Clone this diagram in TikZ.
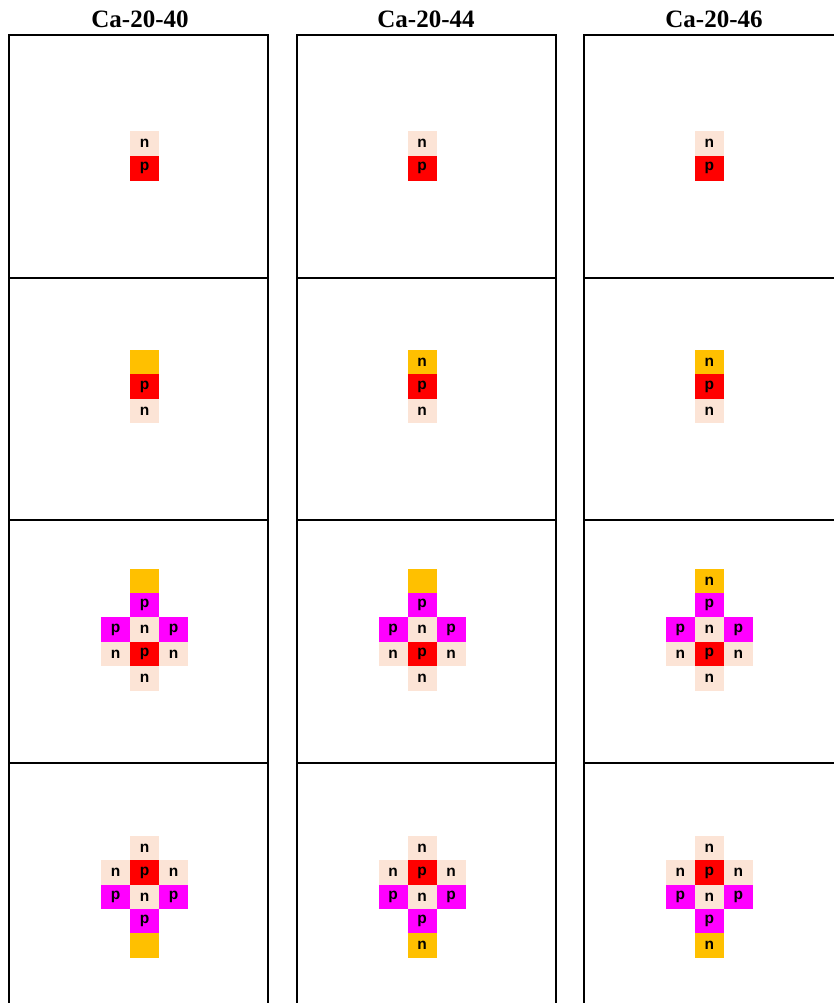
\documentclass[tikz,border=0pt]{standalone}
\usepackage{fontspec}
\setmainfont{Liberation Serif}
\newfontfamily\cellfont{Liberation Sans}
\definecolor{npink}{HTML}{FCE4D6}
\definecolor{pred}{HTML}{FF0000}
\definecolor{oorange}{HTML}{FFC000}
\definecolor{mmag}{HTML}{FF00FF}
\tikzset{
  cellbox/.style={inner sep=0pt, minimum width=29pt, minimum height=24.5pt, draw=none,
    font=\cellfont\bfseries\fontsize{15.5}{16}\selectfont, text=black},
  frame/.style={draw=black, line width=2pt},
  title/.style={font=\bfseries\fontsize{25}{28}\selectfont, inner sep=0pt}
}
\newcommand\cellnode[5]{\node[cellbox,fill=#4] (#1) at (#2,#3) {\raisebox{-1pt}{#5}};}
\begin{document}
\begin{tikzpicture}[x=1pt,y=-1pt]
\useasboundingbox (0,0) rectangle (834,1003);
\clip (0,0) rectangle (834,1003);
\fill[white] (0,0) rectangle (834,1003);
% titles
\node[title, anchor=base] (t1) at (140,28) {Ca-20-40};
\node[title, anchor=base] (t2) at (426,28) {Ca-20-44};
\node[title, anchor=base] (t3) at (714,28) {Ca-20-46};
% frames
\foreach \xl/\xr/\c in {9/268/a, 297/556/b, 584/843/c}{
  \foreach \yt/\yb/\r in {35/277.7/1, 277.7/520.3/2, 520.3/763/3, 763/1010/4}{
    \draw[frame] (\xl,\yt) rectangle (\xr,\yb);
  }
}
% cells
\foreach \cx/\c/\oa/\ob/\oc in {144.5/a//{}/{}, 422/b/n//n, 709.3/c/n/n/n}{
  \pgfmathsetmacro\xl{\cx-29}
  \pgfmathsetmacro\xr{\cx+29}
  % row 1
  \cellnode{r1n\c}{\cx}{143.4}{npink}{n}
  \cellnode{r1p\c}{\cx}{168.4}{pred}{p}
  % row 2
  \cellnode{r2o\c}{\cx}{362.5}{oorange}{\oa}
  \cellnode{r2p\c}{\cx}{386.7}{pred}{p}
  \cellnode{r2n\c}{\cx}{411.1}{npink}{n}
  % row 3
  \cellnode{r3o\c}{\cx}{581.2}{oorange}{\ob}
  \cellnode{r3pt\c}{\cx}{605.4}{mmag}{p}
  \cellnode{r3pl\c}{\xl}{629.5}{mmag}{p}
  \cellnode{r3nc\c}{\cx}{629.5}{npink}{n}
  \cellnode{r3pr\c}{\xr}{629.5}{mmag}{p}
  \cellnode{r3nl\c}{\xl}{653.9}{npink}{n}
  \cellnode{r3pc\c}{\cx}{653.9}{pred}{p}
  \cellnode{r3nr\c}{\xr}{653.9}{npink}{n}
  \cellnode{r3nb\c}{\cx}{678.3}{npink}{n}
  % row 4
  \cellnode{r4nt\c}{\cx}{848}{npink}{n}
  \cellnode{r4nl\c}{\xl}{872.5}{npink}{n}
  \cellnode{r4pc\c}{\cx}{872.5}{pred}{p}
  \cellnode{r4nr\c}{\xr}{872.5}{npink}{n}
  \cellnode{r4pl\c}{\xl}{897}{mmag}{p}
  \cellnode{r4nc\c}{\cx}{897}{npink}{n}
  \cellnode{r4pr\c}{\xr}{897}{mmag}{p}
  \cellnode{r4pb\c}{\cx}{921.3}{mmag}{p}
  \cellnode{r4o\c}{\cx}{945.5}{oorange}{\oc}
}
\end{tikzpicture}
\end{document}
